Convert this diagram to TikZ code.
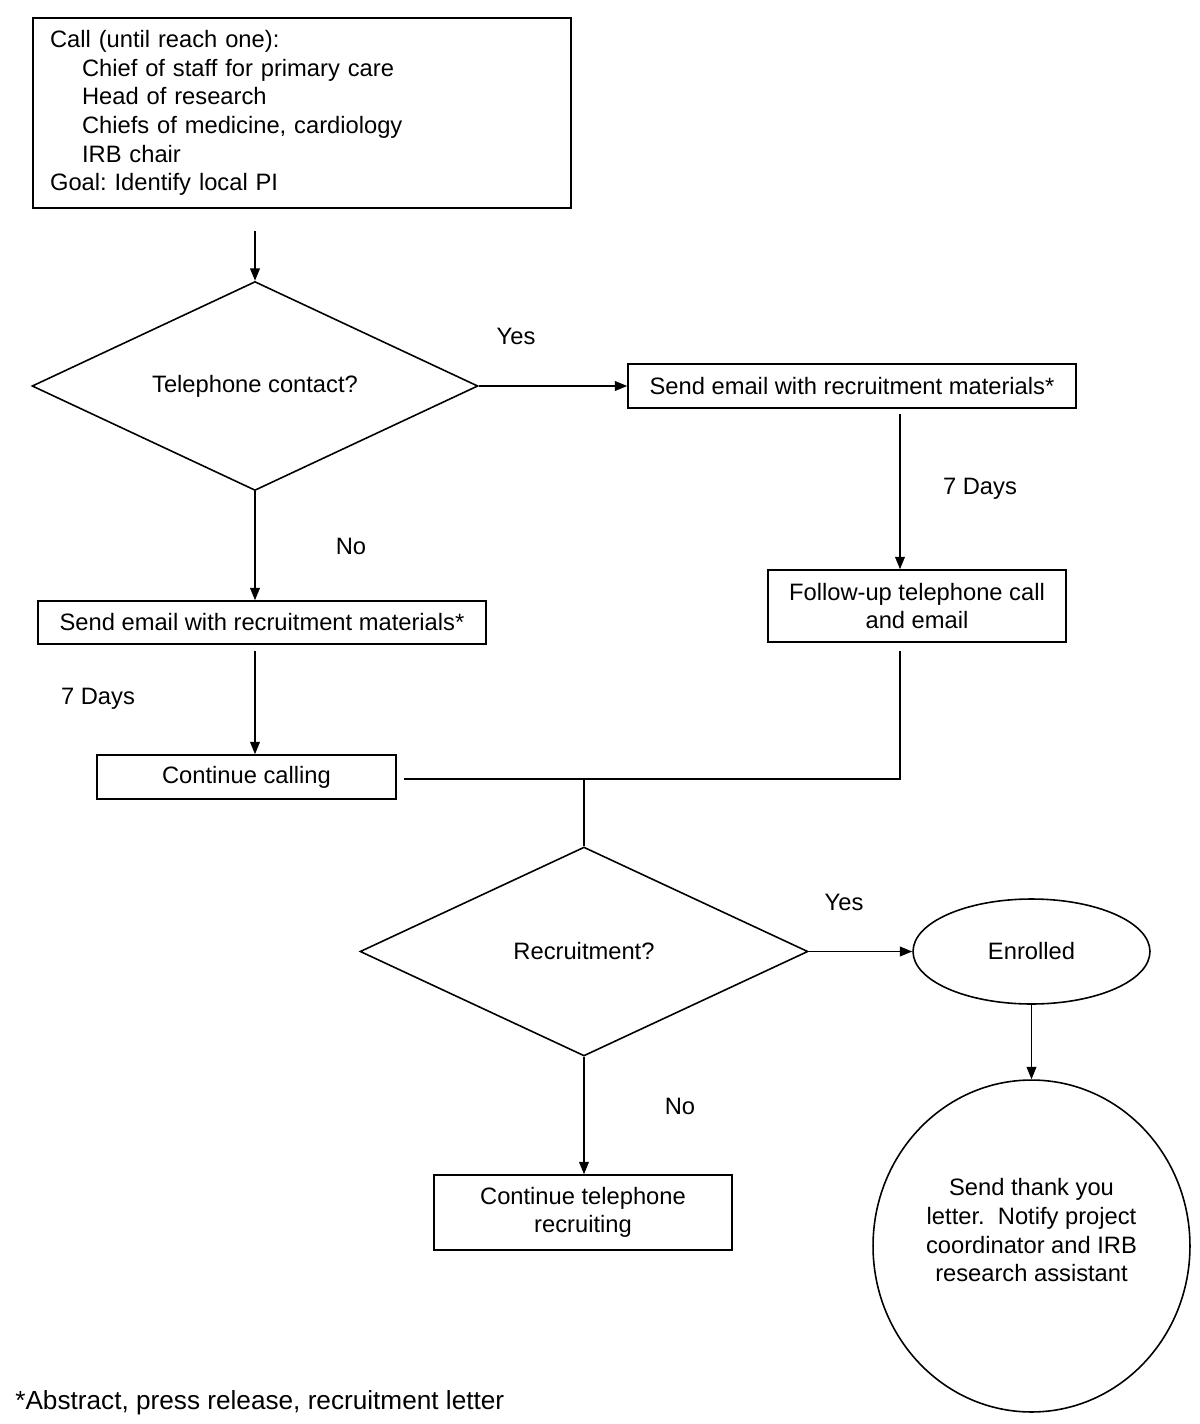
\documentclass[tikz,border=0pt]{standalone}
\usepackage{fontspec}
\setmainfont{Liberation Sans}
\usetikzlibrary{calc, shapes.geometric, arrows.meta}
\frenchspacing

\tikzset{
    box/.style = {draw, black, line width = 0.9pt, rectangle, align = center, inner sep = 0pt},
    decision/.style = {draw, black, line width = 0.9pt, diamond, aspect = 2.13, align = center, inner sep = 0pt},
    bubble/.style = {draw, black, line width = 0.9pt, ellipse, align = center, inner sep = 0pt},
    flow/.style = {black, line width = 0.9pt, -{Triangle[length = 7pt, width = 5.5pt]}},
    link/.style = {black, line width = 0.9pt}
}

\begin{document}
\begin{tikzpicture}[x = 0.02cm, y = -0.02cm, font = \fontsize{13.5}{16.3}\selectfont]
            \useasboundingbox (0, 0) rectangle (1200, 1424);
            \coordinate (join) at (900, 779);
            
            \node[box, align = left, text width = 10.08cm, inner xsep = 0.34cm, minimum height = 3.8cm] (call) at (302, 113) {Call (until reach one):\\
                \hspace*{0.64cm}Chief of staff for primary care\\
                \hspace*{0.64cm}Head of research\\
                \hspace*{0.64cm}Chiefs of medicine, cardiology\\
                \hspace*{0.64cm}IRB chair\\
                Goal: Identify local PI};
            
            \node[decision, minimum width = 8.92cm, minimum height = 4.18cm] (tel) at (255, 386) {Telephone contact?};
            \node[box, minimum width = 8.96cm, minimum height = 0.88cm] (emailR) at (852, 386) {Send email with recruitment materials*};
            \node[box, minimum width = 5.96cm, minimum height = 1.44cm] (followR) at (917, 606) {Follow-up telephone call\\and email};
            \node[box, minimum width = 8.96cm, minimum height = 0.86cm] (emailL) at (262, 622.5) {Send email with recruitment materials*};
            \node[box, minimum width = 5.98cm, minimum height = 0.88cm] (contL) at (246.5, 777) {Continue calling};
            
            \node[decision, minimum width = 8.96cm, minimum height = 4.18cm] (rec) at (584, 951.5) {Recruitment?};
            \node[bubble, minimum width = 4.74cm, minimum height = 2.1cm] (enrolled) at (1031.5, 951.5) {Enrolled};
            \node[bubble, minimum width = 6.34cm, minimum height = 6.64cm] (thanks) at (1031.5, 1246) {Send thank you\\letter.~ Notify project\\coordinator and IRB\\research assistant\\[0.06cm]};
            \node[box, minimum width = 5.96cm, minimum height = 1.5cm] (contTel) at (583, 1212.5) {Continue telephone\\recruiting};
            
            \draw[flow]($(call.south -| tel.north) + (0, -0.44cm)$) -- (tel.north);
            \draw[flow](tel.east) -- (emailR.west);
            \draw[flow](tel.south) -- (emailL.north -| tel.south);
            \draw[flow]($(emailL.south -| tel.south) + (0, -0.12cm)$) -- (contL.north -| tel.south);
            \draw[flow]($(emailR.south -| join) + (0, -0.1cm)$) -- (followR.north -| join);
            \draw[link]($(followR.south -| join) + (0, -0.16cm)$) -- (join) -- ($(contL.east |- join) + (0.14cm, 0)$);
            \draw[link](join -| rec.north) -- (rec.north);
            \draw[flow](rec.east) -- (enrolled.west);
            \draw[flow](rec.south) -- (contTel.north -| rec.south);
            \draw[flow](enrolled.south) -- (thanks.north);
            
            \node (yes1) at (516, 336) {Yes};
            \node (no1) at (351, 546) {No};
            \node (days1) at (980, 489) {7 Days};
            \node (days2) at (98, 699) {7 Days};
            \node (yes2) at (844, 902) {Yes};
            \node (no2) at (680, 1106) {No};
            \node[anchor = west, inner sep = 0pt, font = \fontsize{14.9}{16.3}\selectfont] (note) at (15, 1403) {*Abstract, press release, recruitment letter};
\end{tikzpicture}
\end{document}
